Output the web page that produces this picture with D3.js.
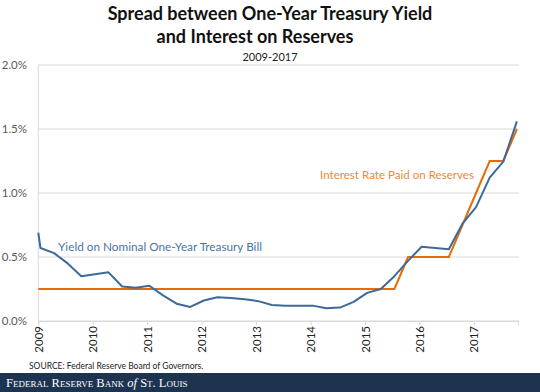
<!DOCTYPE html>
<html>
<head>
<meta charset="utf-8">
<script src="https://cdnjs.cloudflare.com/ajax/libs/d3/7.8.5/d3.min.js"></script>
<style>
  html, body { margin: 0; padding: 0; background: #fff; }
  svg { display: block; }
</style>
</head>
<body>
<svg id="chart" width="540" height="392"></svg>
<script>
// ---- data ----
const yearTicks = [2009, 2010, 2011, 2012, 2013, 2014, 2015, 2016, 2017];
const yTicks = [0, 0.5, 1.0, 1.5, 2.0];
const treasuryDates = [2009.00, 2009.04, 2009.29, 2009.54, 2009.79, 2010.04, 2010.29, 2010.54, 2010.79,
  2011.04, 2011.29, 2011.54, 2011.79, 2012.04, 2012.29, 2012.54, 2012.79, 2013.04, 2013.29, 2013.54, 2013.79,
  2014.04, 2014.29, 2014.54, 2014.79, 2015.04, 2015.29, 2015.54, 2015.79, 2016.04, 2016.29, 2016.54, 2016.79,
  2017.04, 2017.29, 2017.54, 2017.79];
const treasuryValues = [0.69, 0.57, 0.53, 0.45, 0.35, 0.365, 0.38, 0.27, 0.26,
  0.275, 0.20, 0.135, 0.11, 0.16, 0.185, 0.18, 0.17, 0.155, 0.125, 0.12, 0.12,
  0.12, 0.10, 0.105, 0.15, 0.22, 0.25, 0.35, 0.47, 0.58, 0.57, 0.56, 0.76,
  0.89, 1.12, 1.245, 1.56];
const iorDates = [2009.00, 2015.54, 2015.79, 2016.54, 2016.79, 2017.04, 2017.29, 2017.54, 2017.79];
const iorValues = [0.25, 0.25, 0.50, 0.50, 0.75, 1.00, 1.25, 1.25, 1.50];

// ---- drawing ----
const svg = d3.select("#chart");
const x = d3.scaleLinear().domain([2009, 2017.81]).range([38.3, 518]);
const y = d3.scaleLinear().domain([0, 2]).range([321, 65]);

const fontMain = "Lato, 'Open Sans', sans-serif";

// gridlines
svg.append("g").selectAll("line").data(yTicks).join("line")
  .attr("x1", x.range()[0]).attr("x2", 519)
  .attr("y1", d => y(d)).attr("y2", d => y(d))
  .attr("stroke", "#d9d9d9").attr("stroke-width", 1);

// left axis line
svg.append("line").attr("x1", x.range()[0]).attr("x2", x.range()[0])
  .attr("y1", y(2)).attr("y2", y(0)).attr("stroke", "#d9d9d9");

// y axis
const yAxis = d3.axisLeft(y).tickValues(yTicks).tickSize(0).tickPadding(0)
  .tickFormat(d => d.toFixed(1) + "%");
const gy = svg.append("g").attr("transform", "translate(27,0)").call(yAxis);
gy.select(".domain").remove();
gy.selectAll("text").attr("font-family", fontMain).attr("font-size", 11.5).attr("fill", "#595959");

// x axis
const xAxis = d3.axisBottom(x).tickValues(yearTicks).tickSize(4).tickFormat(d3.format("d"));
const gx = svg.append("g").attr("transform", "translate(0,321)").call(xAxis);
gx.select(".domain").attr("stroke", "#d9d9d9");
gx.selectAll(".tick line").attr("stroke", "#d9d9d9");
gx.selectAll("text")
  .attr("font-family", fontMain).attr("font-size", 11.5).attr("fill", "#222")
  .attr("text-anchor", "end").attr("dy", "0.35em")
  .attr("transform", "translate(0,5) rotate(-90)")
  .attr("x", 0).attr("y", 0);

// lines
const line = d3.line().x(d => x(d[0])).y(d => y(d[1]));
svg.append("path").datum(d3.zip(iorDates, iorValues))
  .attr("d", line).attr("fill", "none").attr("stroke", "#e46c0a").attr("stroke-width", 2);
svg.append("path").datum(d3.zip(treasuryDates, treasuryValues))
  .attr("d", line).attr("fill", "none").attr("stroke", "#3e6a9b").attr("stroke-width", 2)
  .attr("stroke-linejoin", "round");

// series labels
svg.append("text").attr("x", 58).attr("y", 251).text("Yield on Nominal One-Year Treasury Bill")
  .attr("font-family", fontMain).attr("font-size", 11.5).attr("fill", "#4a74a8")
  .attr("textLength", 204).attr("lengthAdjust", "spacingAndGlyphs");
svg.append("text").attr("x", 320).attr("y", 179).text("Interest Rate Paid on Reserves")
  .attr("font-family", fontMain).attr("font-size", 11.5).attr("fill", "#e98a3c")
  .attr("textLength", 154).attr("lengthAdjust", "spacingAndGlyphs");

// titles
svg.append("text").attr("x", 270).attr("y", 20).attr("text-anchor", "middle")
  .text("Spread between One-Year Treasury Yield")
  .attr("font-family", fontMain).attr("font-weight", "bold").attr("font-size", 18).attr("fill", "#111");
svg.append("text").attr("x", 255).attr("y", 43).attr("text-anchor", "middle")
  .text("and Interest on Reserves")
  .attr("font-family", fontMain).attr("font-weight", "bold").attr("font-size", 18).attr("fill", "#111");
svg.append("text").attr("x", 270).attr("y", 61).attr("text-anchor", "middle")
  .text("2009-2017")
  .attr("font-family", fontMain).attr("font-size", 11).attr("fill", "#222");

// source
svg.append("text").attr("x", 29).attr("y", 369)
  .text("SOURCE: Federal Reserve Board of Governors.")
  .attr("font-family", fontMain).attr("font-size", 8.5).attr("fill", "#222");

// footer band
svg.append("rect").attr("x", 0).attr("y", 373).attr("width", 540).attr("height", 19).attr("fill", "#1d3451");
const ft = svg.append("text").attr("x", 6).attr("y", 387)
  .attr("font-family", "'Liberation Serif', 'DejaVu Serif', serif").attr("font-size", 12.5).attr("fill", "#fff");
ft.append("tspan").attr("font-variant", "small-caps").text("Federal Reserve Bank ");
ft.append("tspan").attr("font-style", "italic").text("of");
ft.append("tspan").attr("font-variant", "small-caps").text(" St. Louis");
</script>
</body>
</html>
